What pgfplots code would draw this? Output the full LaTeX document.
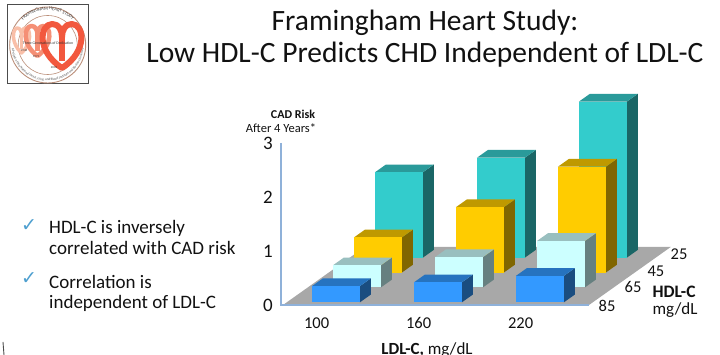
\documentclass[border=0pt]{standalone}
\usepackage{fontspec}
\setmainfont{Carlito}
\newfontfamily\symfont{DejaVu Sans}
\usepackage{pgfplots}
\pgfplotsset{compat=1.18}
\usetikzlibrary{decorations.text}
\definecolor{tealF}{HTML}{33CCCC}\definecolor{tealT}{HTML}{2A9A9A}\definecolor{tealS}{HTML}{1A6666}
\definecolor{yelF}{HTML}{FFCC00}\definecolor{yelT}{HTML}{BF9900}\definecolor{yelS}{HTML}{806600}
\definecolor{palF}{HTML}{CCFFFF}\definecolor{palT}{HTML}{99BFBF}\definecolor{palS}{HTML}{668080}
\definecolor{bluF}{HTML}{3399FF}\definecolor{bluT}{HTML}{2673BF}\definecolor{bluS}{HTML}{1A4D80}
\definecolor{floorc}{HTML}{A8A8A8}
\definecolor{axc}{HTML}{8FB1D9}
\definecolor{chk}{HTML}{4E9FCF}
\definecolor{txt}{HTML}{111111}
\definecolor{ht1}{HTML}{F9BFA8}\definecolor{ht2}{HTML}{F58F75}\definecolor{ht3}{HTML}{F2583E}
\definecolor{ringc}{HTML}{BB8F7A}
% #1 category position, #2 row position, #3 value, #4 colour stem
\newcommand{\colbar}[4]{%
  \pgfmathsetmacro\xa{#1+0.247}\pgfmathsetmacro\xb{#1+0.717}%
  \pgfmathsetmacro\ya{#2+0.18}\pgfmathsetmacro\yb{#2+0.70}%
  \addplot3[draw=none,fill=#4S] coordinates {(\xb,\ya,0)(\xb,\yb,0)(\xb,\yb,#3)(\xb,\ya,#3)} --cycle;
  \addplot3[draw=none,fill=#4T] coordinates {(\xa,\ya,#3)(\xb,\ya,#3)(\xb,\yb,#3)(\xa,\yb,#3)} --cycle;
  \addplot3[draw=none,fill=#4F] coordinates {(\xa,\ya,0)(\xb,\ya,0)(\xb,\ya,#3)(\xa,\ya,#3)} --cycle;
}
\newcommand{\heartp}[6]{%
  \draw[line width=#5,draw=#6,line join=round]
   (#1,#2+#4) .. controls (#1-.72*#3,#2+.62*#4) and (#1-.62*#3,#2) .. (#1-.27*#3,#2)
   .. controls (#1-.08*#3,#2) and (#1,#2+.15*#4) .. (#1,#2+.3*#4)
   .. controls (#1,#2+.15*#4) and (#1+.08*#3,#2) .. (#1+.27*#3,#2)
   .. controls (#1+.62*#3,#2) and (#1+.72*#3,#2+.62*#4) .. cycle;
  \draw[line width=#5,draw=#6] (#1,#2+.25*#4) -- (#1,#2+.85*#4);
}
\begin{document}
\begin{tikzpicture}[x=1pt,y=1pt]
\path[use as bounding box] (0,0) rectangle (720,355);
\begin{axis}[
  at={(283pt,50pt)},anchor=origin,
  x={(102pt,0pt)},y={(21pt,14.9pt)},z={(0pt,54pt)},
  xmin=0,xmax=3,ymin=0,ymax=3.9,zmin=0,zmax=3,
  clip=false,
  axis line style={draw=none},
  major tick length=0pt,
  xtick={0.33,1.33,2.33},xticklabels={100,160,220},
  ytick={0.05,1.29,2.38,3.48},yticklabels={85,65,45,25},
  ztick={0,1,2,3},
  tick label style={font=\fontsize{16.5}{17}\selectfont,text=txt},
  /pgf/number format/assume math mode=true,
  x tick label style={anchor=center,yshift=-18pt},
  y tick label style={anchor=center,xshift=17pt,yshift=-1.5pt},
  z tick label style={anchor=center,xshift=-15pt,font=\fontsize{19}{19}\selectfont},
]
\addplot3[draw=none,fill=floorc] coordinates {(0,0,0)(3,0,0)(3,3.9,0)(0,3.9,0)} --cycle;
\addplot3[draw=axc,line width=1.2pt] coordinates {(-0.02,0,3)(-0.02,0,0)(3,0,0)};
% HDL-C 25
\colbar{0}{3}{1.58}{teal}\colbar{1}{3}{1.85}{teal}\colbar{2}{3}{2.89}{teal}
% HDL-C 45
\colbar{0}{2}{0.65}{yel}\colbar{1}{2}{1.21}{yel}\colbar{2}{2}{1.96}{yel}
% HDL-C 65
\colbar{0}{1}{0.41}{pal}\colbar{1}{1}{0.56}{pal}\colbar{2}{1}{0.86}{pal}
% HDL-C 85
\colbar{0}{0}{0.30}{blu}\colbar{1}{0}{0.37}{blu}\colbar{2}{0}{0.49}{blu}
\end{axis}
% logo ring text in upright coordinates
\fill[white] (8,272) rectangle (87,351);
\draw[draw=black!70,line width=0.8pt] (7.5,271.5) rectangle (88,351);
\fill[draw=none,fill=white] (47.7,310) circle (38);
\draw[draw=ringc,line width=0.9pt] (47.7,310) circle (38);
\draw[draw=ringc,line width=0.6pt] (47.7,310) circle (29.5);
\path[decorate,decoration={text along path,text align=center,text color=black!75,
  text={|\fontsize{4.6}{5}\selectfont|FRAMINGHAM HEART STUDY}}] (12.7,310) arc (180:0:35);
\path[decorate,decoration={text along path,text align=center,text color=black!70,
  text={|\fontsize{3.3}{4}\selectfont|A Project of the National Heart, Lung, and Blood Institute and Boston University}}] (47.7,274) ++(-36,36) arc (180:360:36);
\begin{scope}[y=-1pt,yshift=355pt]
\heartp{21.5}{28}{15}{25}{3.5pt}{ht1}
\heartp{37.5}{26}{22}{30}{4.5pt}{ht2}
\heartp{62}{24}{36}{44}{6pt}{ht3}
\node[font=\fontsize{3.8}{4}\selectfont,text=black!80] at (48,43) {Three Generations of Dedication};
\node[font=\fontsize{3}{3}\selectfont,text=black!80] at (24,50) {1948};
\node[font=\fontsize{3}{3}\selectfont,text=black!80] at (36,57) {1971};
\node[font=\fontsize{3}{3}\selectfont,text=black!80] at (54,68) {2002};
% title
\node[font=\fontsize{29.5}{30}\selectfont,text=txt] at (425,23) {Framingham Heart Study:};
\node[font=\fontsize{29.5}{30}\selectfont,text=txt] at (425,55) {Low HDL-C Predicts CHD Independent of LDL-C};
% axis texts
\node[font=\fontsize{12}{12}\selectfont\bfseries,text=txt] at (293,114) {CAD Risk};
\node[font=\fontsize{12.5}{13}\selectfont,text=txt] at (281,128) {After 4 Years*};
\node[font=\fontsize{17}{17}\selectfont,text=txt] at (427,350) {\textbf{LDL-C,} mg/dL};
\node[font=\fontsize{17.5}{18}\selectfont\bfseries,text=txt] at (674,292) {HDL-C};
\node[font=\fontsize{17}{17}\selectfont,text=txt] at (675,310) {mg/dL};
% bullets
\foreach \yy/\tt in {228/HDL-C is inversely,248/correlated with CAD risk,282/Correlation is,303/independent of LDL-C}
  \node[anchor=west,inner sep=0pt,font=\fontsize{19}{19}\selectfont,text=txt] at (49,\yy) {\tt};
\node[font=\symfont\fontsize{19}{19}\selectfont,text=chk] at (29,226) {✓};
\node[font=\symfont\fontsize{19}{19}\selectfont,text=chk] at (29,279) {✓};
\draw[line width=0.9pt,draw=black!70] (3,342) -- (4,355);
\end{scope}
\end{tikzpicture}
\end{document}
